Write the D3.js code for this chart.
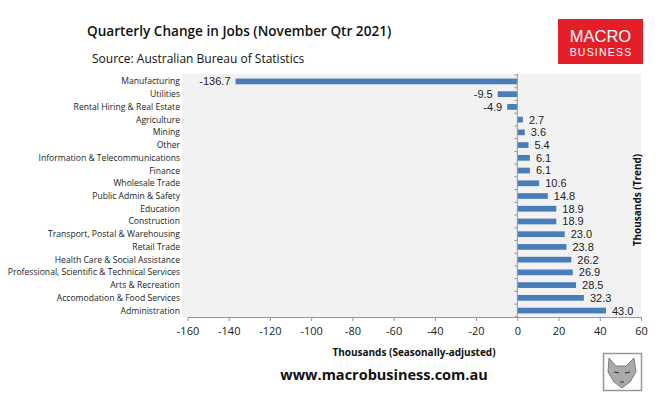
<!DOCTYPE html>
<html>
<head>
<meta charset="utf-8">
<script src="https://cdn.jsdelivr.net/npm/d3@7"></script>
<style>
  body { margin: 0; background: #fff; }
  text { font-family: "Open Sans", "Liberation Sans", sans-serif; }
</style>
</head>
<body>
<div id="chart"></div>
<script>
  var categories = ["Manufacturing", "Utilities", "Rental Hiring & Real Estate", "Agriculture", "Mining",
    "Other", "Information & Telecommunications", "Finance", "Wholesale Trade", "Public Admin & Safety",
    "Education", "Construction", "Transport, Postal & Warehousing", "Retail Trade",
    "Health Care & Social Assistance", "Professional, Scientific & Technical Services",
    "Arts & Recreation", "Accomodation & Food Services", "Administration"];
  var values = [-136.7, -9.5, -4.9, 2.7, 3.6, 5.4, 6.1, 6.1, 10.6, 14.8, 18.9, 18.9, 23.0, 23.8, 26.2, 26.9, 28.5, 32.3, 43.0];
  var xTicks = [-160, -140, -120, -100, -80, -60, -40, -20, 0, 20, 40, 60];

  var W = 660, H = 396;
  var svg = d3.select("#chart").append("svg").attr("width", W).attr("height", H);

  var x = d3.scaleLinear().domain([-160, 60]).range([187.5, 641]);
  var y = d3.scaleBand().domain(categories).range([75, 317]).paddingInner(0.55).paddingOuter(0.28);
  var step = y.step();

  // plot background
  svg.append("rect").attr("x", 182).attr("y", 74).attr("width", 641 - 182).attr("height", 317 - 74)
    .attr("fill", "#f2f2f2");

  // bars
  svg.selectAll("rect.bar").data(values).enter().append("rect").attr("class", "bar")
    .attr("x", function(d) { return x(Math.min(0, d)); })
    .attr("y", function(d, i) { return y(categories[i]); })
    .attr("width", function(d) { return Math.abs(x(d) - x(0)); })
    .attr("height", y.bandwidth())
    .attr("fill", "#4a7ebb");

  // value labels
  svg.selectAll("text.val").data(values).enter().append("text").attr("class", "val")
    .attr("x", function(d) { return d < 0 ? x(d) - 5 : x(d) + 6; })
    .attr("y", function(d, i) { return y(categories[i]) + y.bandwidth() / 2; })
    .attr("dy", "0.36em")
    .attr("text-anchor", function(d) { return d < 0 ? "end" : "start"; })
    .attr("font-size", 11).attr("fill", "#222")
    .style("font-family", "'Liberation Sans', sans-serif")
    .text(function(d) { return d.toFixed(1); });

  // category labels
  svg.selectAll("text.cat").data(categories).enter().append("text").attr("class", "cat")
    .attr("x", 180)
    .attr("y", function(d) { return y(d) + y.bandwidth() / 2; })
    .attr("dy", "0.35em")
    .attr("text-anchor", "end")
    .attr("font-size", 8.6).attr("fill", "#222")
    .text(function(d) { return d; });

  // vertical axis at zero with ticks between categories
  var yAx = svg.append("g");
  yAx.append("line").attr("x1", x(0)).attr("x2", x(0)).attr("y1", 74).attr("y2", 317)
    .attr("stroke", "#999").attr("stroke-width", 1);
  yAx.selectAll("line.tk").data(d3.range(categories.length + 1)).enter().append("line").attr("class", "tk")
    .attr("x1", x(0) - 3).attr("x2", x(0))
    .attr("y1", function(i) { return 75 + i * step; })
    .attr("y2", function(i) { return 75 + i * step; })
    .attr("stroke", "#999");

  // bottom axis
  var xAxis = d3.axisBottom(x).tickValues(xTicks).tickSize(4).tickSizeOuter(0).tickPadding(6)
    .tickFormat(d3.format("d"));
  var gx = svg.append("g").attr("transform", "translate(0,317)").call(xAxis);
  gx.select(".domain").attr("stroke", "#999");
  gx.selectAll(".tick line").attr("stroke", "#999");
  gx.selectAll(".tick text").attr("font-size", 11).attr("fill", "#222")
    .style("font-family", "'Open Sans', sans-serif")
    .text(function(d) { return d < 0 ? "-" + Math.abs(d) : d; });

  // titles
  svg.append("text").attr("x", 87).attr("y", 36).attr("font-size", 13.6).attr("font-weight", 600)
    .attr("fill", "#111").text("Quarterly Change in Jobs (November Qtr 2021)");
  svg.append("text").attr("x", 92).attr("y", 63).attr("font-size", 12)
    .attr("fill", "#111").text("Source: Australian Bureau of Statistics");

  svg.append("text").attr("x", 414).attr("y", 356).attr("text-anchor", "middle")
    .attr("font-size", 10).attr("font-weight", 700).attr("fill", "#111")
    .text("Thousands (Seasonally-adjusted)");
  svg.append("text").attr("transform", "translate(641,200) rotate(-90)").attr("text-anchor", "middle")
    .attr("font-size", 10).attr("font-weight", 700).attr("fill", "#111")
    .text("Thousands (Trend)");

  svg.append("text").attr("x", 384).attr("y", 380).attr("text-anchor", "middle")
    .attr("font-size", 14.5).attr("font-weight", 700).attr("fill", "#111")
    .text("www.macrobusiness.com.au");

  // MB logo
  var logo = svg.append("g");
  logo.append("rect").attr("x", 558).attr("y", 19).attr("width", 85).attr("height", 45).attr("fill", "#e3202a");
  logo.append("text").attr("x", 600.5).attr("y", 42).attr("text-anchor", "middle")
    .attr("font-size", 16.5).attr("fill", "#fff").style("font-family", "'Liberation Sans', sans-serif")
    .text("MACRO");
  logo.append("text").attr("x", 601).attr("y", 56).attr("text-anchor", "middle")
    .attr("font-size", 10.5).attr("fill", "#fff").attr("letter-spacing", 1.2)
    .style("font-family", "'Liberation Sans', sans-serif")
    .text("BUSINESS");

  // wolf badge
  var wolf = svg.append("g");
  wolf.append("rect").attr("x", 603.5).attr("y", 353.5).attr("width", 38).attr("height", 37)
    .attr("fill", "#fff").attr("stroke", "#999").attr("stroke-width", 1.5);
  wolf.append("path")
    .attr("d", "M609,358 L616,366 L626,366 L634,358 L636,372 L630,382 L622,388 L614,382 L608,372 Z")
    .attr("fill", "#aaa").attr("stroke", "#666").attr("stroke-width", 0.8);
  wolf.append("path").attr("d", "M614,372 L619,373 M625,373 L630,372 M620,382 L624,382")
    .attr("stroke", "#333").attr("stroke-width", 1.2);
</script>
</body>
</html>
